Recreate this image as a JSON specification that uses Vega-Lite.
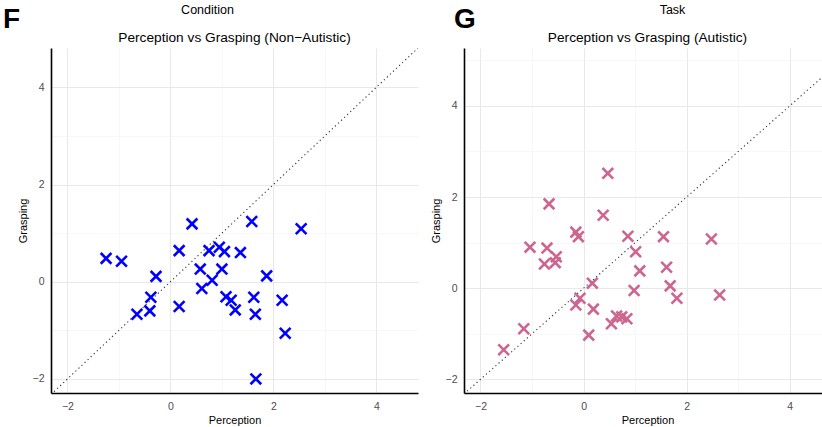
{
  "$schema": "https://vega.github.io/schema/vega-lite/v6.json",
  "padding": {"left": 3, "top": 3, "right": 0, "bottom": 0},
  "background": "white",
  "config": {
    "font": "Liberation Sans",
    "view": {"stroke": null},
    "axis": {
      "domainColor": "#000000",
      "domainWidth": 1.6,
      "ticks": false,
      "labelColor": "#4d4d4d",
      "labelFontSize": 10.5,
      "titleFontSize": 11,
      "titleFontWeight": "normal",
      "titleColor": "#000000",
      "values": [-2, -1, 0, 1, 2, 3, 4, 5],
      "labelExpr": "datum.value % 2 === 0 ? datum.label : ''",
      "gridColor": {"condition": {"test": "datum.value % 2 !== 0", "value": "#f3f3f3"}, "value": "#e8e8e8"},
      "gridWidth": {"condition": {"test": "datum.value % 2 !== 0", "value": 0.7}, "value": 1}
    },
    "axisX": {"labelPadding": 8, "titlePadding": 3},
    "axisY": {"labelPadding": 7, "titlePadding": 4}
  },
  "datasets": {
    "nonaut": [
      {"Perception": -1.25, "Grasping": 0.48},
      {"Perception": -0.95, "Grasping": 0.42},
      {"Perception": -0.28, "Grasping": 0.11},
      {"Perception": -0.38, "Grasping": -0.32},
      {"Perception": -0.40, "Grasping": -0.60},
      {"Perception": -0.65, "Grasping": -0.67},
      {"Perception": 0.42, "Grasping": 1.19},
      {"Perception": 0.17, "Grasping": 0.64},
      {"Perception": 0.17, "Grasping": -0.51},
      {"Perception": 0.58, "Grasping": 0.26},
      {"Perception": 0.61, "Grasping": -0.14},
      {"Perception": 0.75, "Grasping": 0.64},
      {"Perception": 0.81, "Grasping": 0.03},
      {"Perception": 0.95, "Grasping": 0.71},
      {"Perception": 1.05, "Grasping": 0.62},
      {"Perception": 1.00, "Grasping": 0.26},
      {"Perception": 1.08, "Grasping": -0.31},
      {"Perception": 1.18, "Grasping": -0.38},
      {"Perception": 1.26, "Grasping": -0.58},
      {"Perception": 1.36, "Grasping": 0.60},
      {"Perception": 1.58, "Grasping": 1.24},
      {"Perception": 1.62, "Grasping": -0.32},
      {"Perception": 1.65, "Grasping": -0.67},
      {"Perception": 1.66, "Grasping": -2.0},
      {"Perception": 1.87, "Grasping": 0.12},
      {"Perception": 2.17, "Grasping": -0.38},
      {"Perception": 2.23, "Grasping": -1.06},
      {"Perception": 2.54, "Grasping": 1.09}
    ],
    "aut": [
      {"Perception": -1.55, "Grasping": -1.35},
      {"Perception": -1.16, "Grasping": -0.89},
      {"Perception": -1.04, "Grasping": 0.90},
      {"Perception": -0.71, "Grasping": 0.88},
      {"Perception": -0.76, "Grasping": 0.53},
      {"Perception": -0.53, "Grasping": 0.69},
      {"Perception": -0.55, "Grasping": 0.56},
      {"Perception": -0.67, "Grasping": 1.85},
      {"Perception": -0.15, "Grasping": 1.23},
      {"Perception": -0.10, "Grasping": 1.13},
      {"Perception": -0.07, "Grasping": -0.22},
      {"Perception": -0.15, "Grasping": -0.37},
      {"Perception": 0.17, "Grasping": 0.11},
      {"Perception": 0.19, "Grasping": -0.46},
      {"Perception": 0.10, "Grasping": -1.03},
      {"Perception": 0.38, "Grasping": 1.60},
      {"Perception": 0.47, "Grasping": 2.52},
      {"Perception": 0.54, "Grasping": -0.78},
      {"Perception": 0.64, "Grasping": -0.61},
      {"Perception": 0.74, "Grasping": -0.63},
      {"Perception": 0.84, "Grasping": -0.67},
      {"Perception": 0.86, "Grasping": 1.14},
      {"Perception": 1.01, "Grasping": 0.80},
      {"Perception": 1.09, "Grasping": 0.38},
      {"Perception": 0.98, "Grasping": -0.05},
      {"Perception": 1.55, "Grasping": 1.13},
      {"Perception": 1.61, "Grasping": 0.46},
      {"Perception": 1.68, "Grasping": 0.05},
      {"Perception": 1.81, "Grasping": -0.22},
      {"Perception": 2.48, "Grasping": 1.08},
      {"Perception": 2.64, "Grasping": -0.15}
    ],
    "diag": [
      {"Perception": -2.32, "Grasping": -2.32},
      {"Perception": 4.81, "Grasping": 4.81}
    ]
  },
  "spacing": 12,
  "hconcat": [
    {
      "title": {"text": "F", "anchor": "start", "fontSize": 28, "fontWeight": "bold", "color": "#000000", "dx": -14, "dy": 34},
      "vconcat": [
        {
          "title": {"text": "Condition", "anchor": "middle", "frame": "bounds", "fontSize": 12.5, "fontWeight": "normal", "color": "#000000", "dx": -10, "offset": 15},
          "vconcat": [
            {
              "width": 367,
              "height": 345,
              "title": {"text": "Perception vs Grasping (Non−Autistic)", "anchor": "middle", "frame": "group", "fontSize": 13.7, "fontWeight": "normal", "color": "#000000", "offset": 3},
              "layer": [
                {
                  "data": {"name": "diag"},
                  "mark": {"type": "line", "color": "#333333", "strokeWidth": 1.1, "strokeDash": [1.2, 3], "clip": true},
                  "encoding": {
                    "x": {"field": "Perception", "type": "quantitative", "scale": {"domain": [-2.32, 4.81], "nice": false, "zero": false}, "title": "Perception"},
                    "y": {"field": "Grasping", "type": "quantitative", "scale": {"domain": [-2.29, 4.81], "nice": false, "zero": false}, "title": "Grasping"}
                  }
                },
                {
                  "data": {"name": "nonaut"},
                  "mark": {"type": "point", "shape": "M-1,-1L1,1M-1,1L1,-1", "filled": false, "stroke": "#0000ff", "strokeWidth": 2.6, "size": 115, "opacity": 1, "clip": true},
                  "encoding": {
                    "x": {"field": "Perception", "type": "quantitative"},
                    "y": {"field": "Grasping", "type": "quantitative"}
                  }
                }
              ]
            }
          ]
        }
      ]
    },
    {
      "title": {"text": "G", "anchor": "start", "fontSize": 28, "fontWeight": "bold", "color": "#000000", "dx": 24, "dy": 34},
      "vconcat": [
        {
          "title": {"text": "Task", "anchor": "middle", "frame": "bounds", "fontSize": 12.5, "fontWeight": "normal", "color": "#000000", "dx": 42, "offset": 15},
          "vconcat": [
            {
              "width": 367,
              "height": 345,
              "title": {"text": "Perception vs Grasping (Autistic)", "anchor": "middle", "frame": "group", "fontSize": 13.7, "fontWeight": "normal", "color": "#000000", "offset": 3},
              "layer": [
                {
                  "data": {"name": "diag"},
                  "mark": {"type": "line", "color": "#333333", "strokeWidth": 1.1, "strokeDash": [1.2, 3], "clip": true},
                  "encoding": {
                    "x": {"field": "Perception", "type": "quantitative", "scale": {"domain": [-2.32, 4.8], "nice": false, "zero": false}, "title": "Perception"},
                    "y": {"field": "Grasping", "type": "quantitative", "scale": {"domain": [-2.3, 5.27], "nice": false, "zero": false}, "title": "Grasping"}
                  }
                },
                {
                  "data": {"name": "aut"},
                  "mark": {"type": "point", "shape": "M-1,-1L1,1M-1,1L1,-1", "filled": false, "stroke": "#cc6690", "strokeWidth": 2.6, "size": 115, "opacity": 1, "clip": true},
                  "encoding": {
                    "x": {"field": "Perception", "type": "quantitative"},
                    "y": {"field": "Grasping", "type": "quantitative"}
                  }
                }
              ]
            }
          ]
        }
      ]
    }
  ]
}
